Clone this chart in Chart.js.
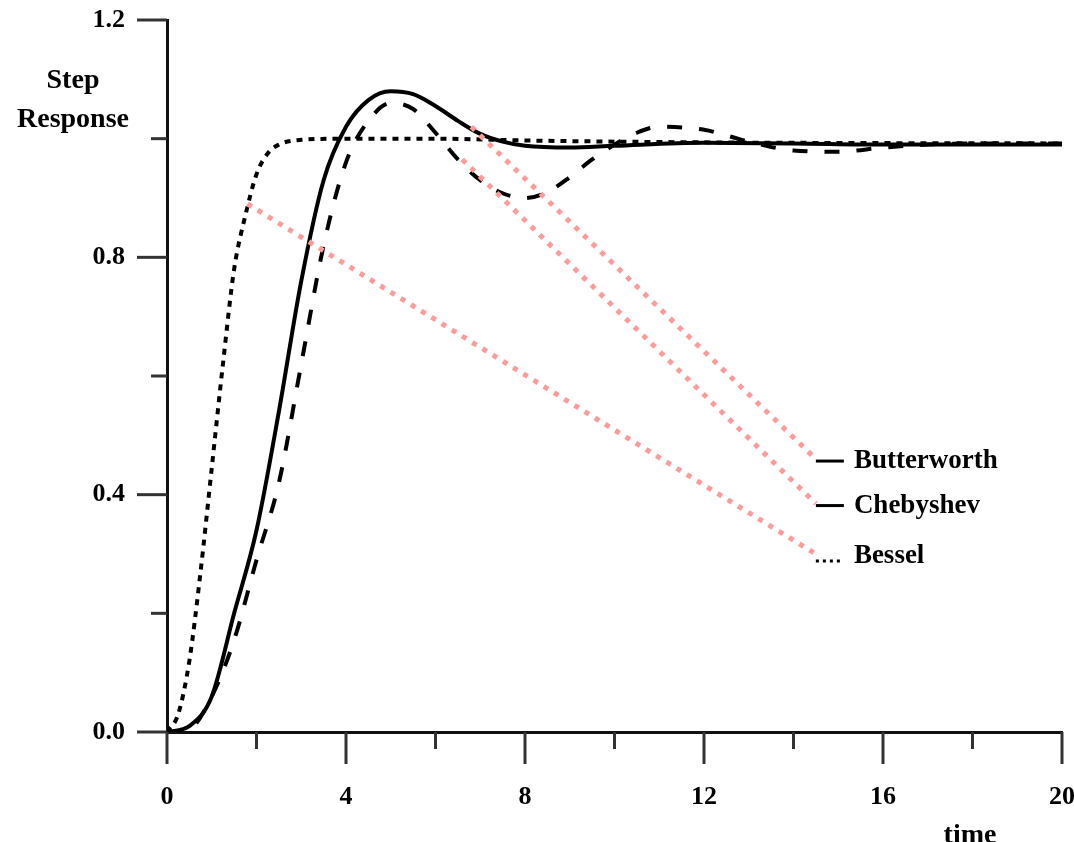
<!DOCTYPE html>
<html>
<head>
<meta charset="utf-8">
<script src="https://cdn.jsdelivr.net/npm/chart.js@4.4.0/dist/chart.umd.min.js"></script>
<style>
  html, body { margin: 0; padding: 0; background: #fff; }
  #wrap { width: 1074px; height: 842px; }
</style>
</head>
<body>
<div id="wrap"><canvas id="stepChart" width="1074" height="842"></canvas></div>
<script>
// step responses of three 4th order low-pass filters
var seriesNames = ["Butterworth", "Chebyshev", "Bessel"];

var butterTime = [0, 0.5, 1, 1.5, 2, 2.5, 3, 3.5, 4, 4.5, 5, 5.5, 6, 6.5, 7, 7.5, 8, 9, 10, 12, 14, 16, 18, 20];
var butterResp = [0, 0.01, 0.06, 0.2, 0.34, 0.54, 0.76, 0.93, 1.02, 1.065, 1.08, 1.075, 1.055, 1.03, 1.008, 0.995, 0.988, 0.985, 0.988, 0.993, 0.992, 0.99, 0.99, 0.99];

var chebyTime = [0, 0.5, 1, 1.5, 2, 2.5, 3, 3.5, 4, 4.5, 5, 5.5, 6, 6.5, 7, 7.5, 8, 8.5, 9, 9.5, 10, 10.5, 11, 12, 13, 14, 15, 16, 17, 18, 20];
var chebyResp = [0, 0.005, 0.06, 0.155, 0.29, 0.42, 0.62, 0.82, 0.96, 1.03, 1.06, 1.05, 1.01, 0.965, 0.93, 0.908, 0.9, 0.91, 0.935, 0.965, 0.99, 1.01, 1.02, 1.015, 0.995, 0.98, 0.978, 0.985, 0.99, 0.992, 0.992];

var besselTime = [0, 0.25, 0.5, 0.75, 1, 1.25, 1.5, 1.75, 2, 2.25, 2.5, 3, 4, 6, 8, 10, 14, 20];
var besselResp = [0, 0.03, 0.12, 0.27, 0.445, 0.62, 0.78, 0.87, 0.94, 0.975, 0.99, 0.998, 1.0, 1.0, 0.997, 0.995, 0.993, 0.992];

// pink pointer lines from each curve to its label (data coords)
var pointerFromX = [6.8, 6.6, 1.8];
var pointerFromY = [1.02, 0.965, 0.89];
var pointerToX = [14.5, 14.5, 14.5];
var pointerToY = [0.46, 0.385, 0.3];

var xTicks = [0, 4, 8, 12, 16, 20];
var yTicks = ["0.0", "0.4", "0.8", "1.2"];

var SERIF = "'Liberation Serif', 'DejaVu Serif', serif";

function pairs(xs, ys) {
  return xs.map(function (x, i) { return { x: x, y: ys[i] }; });
}

function curve(label, xs, ys, dash) {
  return {
    label: label,
    data: pairs(xs, ys),
    borderColor: "#000",
    borderWidth: 4,
    borderDash: dash,
    pointRadius: 0,
    fill: false,
    cubicInterpolationMode: "monotone",
    order: 1,
  };
}

var datasets = [
  curve(seriesNames[0], butterTime, butterResp, []),
  curve(seriesNames[1], chebyTime, chebyResp, [15, 17]),
  curve(seriesNames[2], besselTime, besselResp, [6, 6]),
];

pointerFromX.forEach(function (x0, i) {
  datasets.push({
    label: "ptr" + i,
    data: [{ x: x0, y: pointerFromY[i] }, { x: pointerToX[i], y: pointerToY[i] }],
    borderColor: "#ff9a9a",
    borderWidth: 5,
    borderDash: [5, 7],
    pointRadius: 0,
    fill: false,
    tension: 0,
    order: 0,
  });
});

var decor = {
  id: "decor",
  afterDraw: function (chart) {
    var ctx = chart.ctx;
    var xs = chart.scales.x;
    var ys = chart.scales.y;
    ctx.save();

    // tick marks, long for labelled ticks
    ctx.strokeStyle = "#333";
    ctx.lineWidth = 3;
    ys.ticks.forEach(function (t) {
      var py = ys.getPixelForValue(t.value);
      var len = t.label ? 30 : 16;
      ctx.beginPath();
      ctx.moveTo(xs.left, py);
      ctx.lineTo(xs.left - len, py);
      ctx.stroke();
    });
    xs.ticks.forEach(function (t) {
      var px = xs.getPixelForValue(t.value);
      var len = t.label ? 32 : 17;
      ctx.beginPath();
      ctx.moveTo(px, ys.bottom);
      ctx.lineTo(px, ys.bottom + len);
      ctx.stroke();
    });

    // axis titles
    ctx.fillStyle = "#000";
    ctx.font = "bold 28px " + SERIF;
    ctx.textAlign = "center";
    ctx.textBaseline = "alphabetic";
    ctx.fillText("Step", 73, 88);
    ctx.fillText("Response", 73, 127);
    ctx.fillText("time", 970, 843);

    // labels at the end of the pointer lines
    ctx.font = "bold 27px " + SERIF;
    ctx.textAlign = "left";
    ctx.textBaseline = "middle";
    seriesNames.forEach(function (name, i) {
      var px = xs.getPixelForValue(pointerToX[i]);
      var py = ys.getPixelForValue(pointerToY[i]) + 2;
      ctx.strokeStyle = "#000";
      ctx.lineWidth = 3;
      ctx.setLineDash(i === 2 ? [3, 4] : []);
      ctx.beginPath();
      ctx.moveTo(px, py + (i === 2 ? 5 : 0));
      ctx.lineTo(px + 28, py + (i === 2 ? 5 : 0));
      ctx.stroke();
      ctx.setLineDash([]);
      ctx.fillText(name, px + 38, py);
    });
    ctx.restore();
  },
};

new Chart(document.getElementById("stepChart"), {
  type: "line",
  data: { datasets: datasets },
  options: {
    responsive: false,
    animation: false,
    events: [],
    layout: { autoPadding: false, padding: { top: 20, right: 12, left: 0, bottom: 0 } },
    plugins: { legend: { display: false }, tooltip: { enabled: false }, title: { display: false } },
    scales: {
      x: {
        type: "linear",
        min: 0,
        max: 20,
        afterFit: function (s) {
          s.height = 110;
          s.paddingLeft = 0;
          s.paddingRight = 0;
        },
        grid: { display: false, drawTicks: false },
        border: { display: true, color: "#111", width: 3 },
        ticks: {
          stepSize: 2,
          autoSkip: false,
          maxRotation: 0,
          padding: 50,
          color: "#000",
          font: { family: SERIF, size: 26, weight: "bold" },
          callback: function (v) {
            return xTicks.indexOf(v) >= 0 ? String(v) : "";
          },
        },
      },
      y: {
        type: "linear",
        min: 0,
        max: 1.2,
        afterFit: function (s) {
          s.width = 167;
          s.paddingTop = 0;
          s.paddingBottom = 0;
        },
        grid: { display: false, drawTicks: false },
        border: { display: true, color: "#111", width: 3 },
        ticks: {
          stepSize: 0.2,
          autoSkip: false,
          padding: 42,
          color: "#000",
          font: { family: SERIF, size: 26, weight: "bold" },
          callback: function (v) {
            var s = v.toFixed(1);
            return yTicks.indexOf(s) >= 0 ? s : "";
          },
        },
      },
    },
  },
  plugins: [decor],
});
</script>
</body>
</html>
